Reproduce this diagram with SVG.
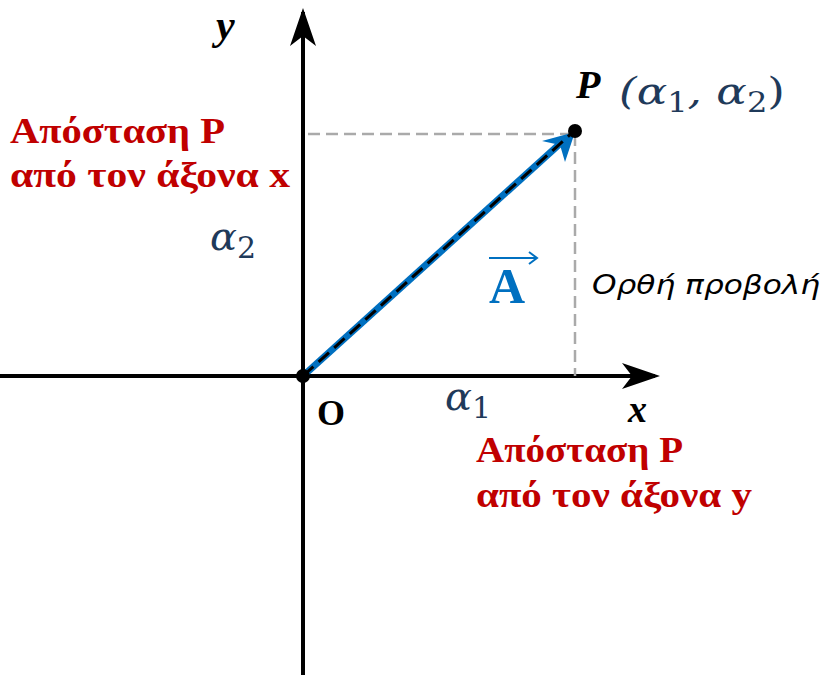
<svg xmlns="http://www.w3.org/2000/svg" width="828" height="675" viewBox="0 0 828 675">
<style>
.red{font-family:"Liberation Serif","DejaVu Serif",serif;font-weight:bold;font-size:35px;fill:#c00000}
.math{font-family:"DejaVu Serif","Liberation Serif",serif;font-style:italic;fill:#1f3a5a}
.lbl{font-family:"Liberation Serif","DejaVu Serif",serif;font-weight:bold;font-style:italic;fill:#000}
.guide{stroke:#aaa;stroke-width:2.5;stroke-dasharray:12 6;fill:none}
</style>
<g id="connectors">
<line x1="303" y1="675" x2="303" y2="12" stroke="#000" stroke-width="4"/>
<path d="M290,46 L303,8 L316,46 L303,36 Z" fill="#000"/>
<line x1="0" y1="376" x2="655" y2="376" stroke="#000" stroke-width="4"/>
<path d="M622,363 L660,376 L622,389 L632,376 Z" fill="#000"/>
<path class="guide" d="M308,134 H575"/>
<path class="guide" d="M575,134 V376"/>
<line x1="303" y1="376" x2="563" y2="141" stroke="#0070c0" stroke-width="7"/>
<path d="M542,141 L575,132 L565,162 L560,145 Z" fill="#0070c0"/>
<line x1="303" y1="376" x2="572" y2="133" stroke="#000" stroke-width="3" stroke-dasharray="14 7"/>
</g>
<g id="origin">
<circle cx="303" cy="376" r="7" fill="#000"/>
<text x="317" y="425" font-family="Liberation Serif,serif" font-weight="bold" font-size="36">O</text>
</g>
<g id="point-P">
<circle cx="575" cy="131" r="7" fill="#000"/>
<text x="576" y="98" class="lbl" font-size="40">P</text>
<text x="619" y="104" class="math" font-size="38" textLength="166" lengthAdjust="spacingAndGlyphs">(α<tspan font-size="27" dy="8" font-style="normal">1</tspan><tspan dy="-8">, α</tspan><tspan font-size="27" dy="8" font-style="normal">2</tspan><tspan dy="-8" font-style="normal">)</tspan></text>
</g>
<g id="axis-labels">
<text x="216" y="39" class="lbl" font-size="42">y</text>
<text x="628" y="422" class="lbl" font-size="38">x</text>
</g>
<g id="alpha2">
<text x="210" y="250" class="math" font-size="40">α<tspan font-size="30" dy="8" font-style="normal">2</tspan></text>
</g>
<g id="alpha1">
<text x="445" y="410" class="math" font-size="40">α<tspan font-size="30" dy="8" font-style="normal">1</tspan></text>
</g>
<g id="vector-A">
<text x="489" y="303" font-family="Liberation Serif,serif" font-weight="bold" font-size="50" fill="#0070c0">A</text>
<line x1="489" y1="258" x2="536" y2="258" stroke="#0070c0" stroke-width="2"/>
<path d="M529,252 L537,258 L529,264" stroke="#0070c0" stroke-width="2" fill="none"/>
</g>
<g id="projection">
<text x="592" y="294" font-family="DejaVu Sans,sans-serif" font-style="italic" font-size="27" fill="#000" textLength="228" lengthAdjust="spacingAndGlyphs">Ορθή προβολή</text>
</g>
<g id="dist-x">
<text x="10" y="143" class="red" textLength="215" lengthAdjust="spacingAndGlyphs">Απόσταση P</text>
<text x="10" y="187" class="red" textLength="280" lengthAdjust="spacingAndGlyphs">από τον άξονα x</text>
</g>
<g id="dist-y">
<text x="476" y="462" class="red" textLength="207" lengthAdjust="spacingAndGlyphs">Απόσταση P</text>
<text x="476" y="507" class="red" textLength="276" lengthAdjust="spacingAndGlyphs">από τον άξονα y</text>
</g>
</svg>
